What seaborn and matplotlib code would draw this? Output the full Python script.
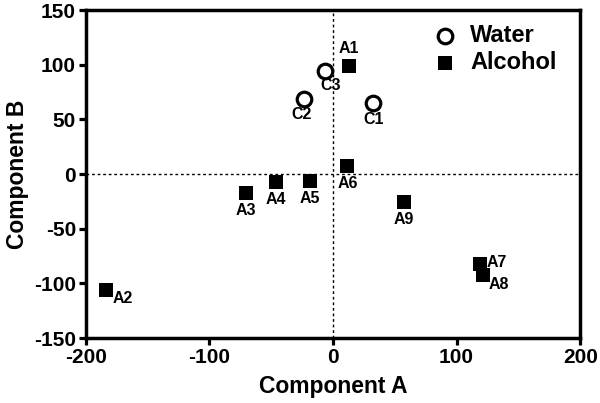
import pandas as pd
import matplotlib
matplotlib.use('Agg')
import matplotlib.pyplot as plt
import seaborn as sns

# Sample scores
labels = ['C1', 'C2', 'C3', 'A1', 'A2', 'A3', 'A4', 'A5', 'A6', 'A7', 'A8', 'A9']
comp_a = [32.7, -23.5, -6.5, 13, -184, -70.7, -46.4, -19, 11.7, 118.8, 121.5, 57.5]
comp_b = [64.6, 68.6, 94, 99, -106, -17.7, -7.6, -6.4, 7.6, -82.3, -92.6, -25.9]
groups = ['Water'] * 3 + ['Alcohol'] * 9

# label offsets in points (dx, dy, ha, va)
offsets = {
    'C1': (0, -6, 'center', 'top'), 'C2': (-2, -6, 'center', 'top'),
    'C3': (4, -5, 'center', 'top'), 'A1': (0, 7, 'center', 'bottom'),
    'A2': (5, -1, 'left', 'top'), 'A3': (0, -7, 'center', 'top'),
    'A4': (0, -7, 'center', 'top'), 'A5': (0, -7, 'center', 'top'),
    'A6': (0, -7, 'center', 'top'), 'A7': (5, 1, 'left', 'center'),
    'A8': (4, -1, 'left', 'top'), 'A9': (0, -7, 'center', 'top'),
}

df = pd.DataFrame({'label': labels, 'A': comp_a, 'B': comp_b, 'group': groups})

sns.set_style('ticks')
plt.rcParams['font.family'] = ['Liberation Sans', 'DejaVu Sans']
plt.rcParams['font.weight'] = 'bold'
plt.rcParams['axes.unicode_minus'] = False
for k in ['text.color', 'axes.labelcolor', 'xtick.color', 'ytick.color', 'axes.edgecolor']:
    plt.rcParams[k] = 'black'

fig = plt.figure(figsize=(6, 4.03), dpi=100)
ax = fig.add_axes([0.143, 0.161, 0.824, 0.814])

ax.axhline(0, color='black', ls=(0, (2, 2)), lw=1, zorder=0)
ax.axvline(0, color='black', ls=(0, (2, 2)), lw=1, zorder=0)

water = df[df.group == 'Water']
alcohol = df[df.group == 'Alcohol']
sns.scatterplot(data=water, x='A', y='B', marker='o', s=110, facecolor='white',
                edgecolor='black', linewidth=2.3, label='Water', ax=ax, zorder=3)
sns.scatterplot(data=alcohol, x='A', y='B', marker='s', s=115, color='black',
                edgecolor='black', linewidth=0, label='Alcohol', ax=ax, zorder=3)

for _, r in df.iterrows():
    dx, dy, ha, va = offsets[r['label']]
    ax.annotate(r['label'], (r['A'], r['B']), xytext=(dx, dy), textcoords='offset points',
                ha=ha, va=va, fontsize=11.5, fontweight='bold')

ax.set_xlim(-200, 200)
ax.set_ylim(-150, 150)
ax.set_xticks([-200, -100, 0, 100, 200])
ax.set_yticks([-150, -100, -50, 0, 50, 100, 150])
ax.set_xlabel('Component A', fontsize=16.5, fontweight='bold', labelpad=6)
ax.set_ylabel('Component B', fontsize=16.5, fontweight='bold', labelpad=4)
ax.tick_params(labelsize=15, width=2.3, length=5, direction='out', pad=2)
for lab in ax.get_xticklabels() + ax.get_yticklabels():
    lab.set_fontweight('bold')
for sp in ax.spines.values():
    sp.set_linewidth(2.5)
    sp.set_visible(True)

leg = ax.legend(loc='upper left', bbox_to_anchor=(0.67, 1.0), frameon=False, fontsize=17,
                handletextpad=0.45, borderaxespad=0.2, labelspacing=0.15, handlelength=1.2)
for t in leg.get_texts():
    t.set_fontweight('bold')

fig.savefig('out.png', dpi=100)
